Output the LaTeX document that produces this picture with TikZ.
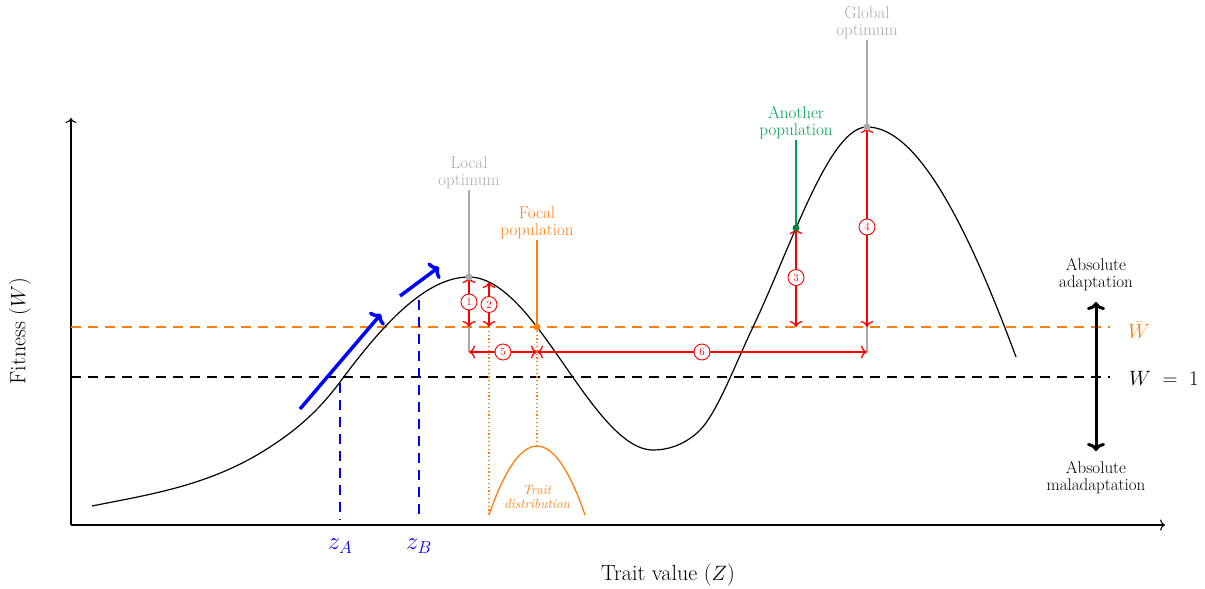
\documentclass[tikz,border=0pt]{standalone}
\usetikzlibrary{arrows.meta}
\definecolor{myorange}{RGB}{255,127,14}
\definecolor{mygreen}{RGB}{0,160,80}
\definecolor{mygray}{RGB}{170,170,170}
\begin{document}
\begin{tikzpicture}[x=1pt,y=-1pt,
  lbl/.style={font=\fontsize{17}{17}\selectfont, align=center, inner sep=1pt},
  num/.style={circle, draw=red, fill=white, text=red, inner sep=0pt, minimum size=16pt, font=\fontsize{11}{11}\selectfont, line width=0.9pt},
  redtip/.tip={To[length=6pt,width=13pt]},
  redarr/.style={red, line width=1.3pt, redtip-redtip},
  grayline/.style={mygray, line width=1.2pt},
  bluearr/.style={blue, line width=3.5pt, -{To[length=8pt,width=20pt]}},
  bluedash/.style={blue, line width=1.1pt, dash pattern=on 10pt off 7pt},
  blackdash/.style={black, line width=1.1pt, dash pattern=on 10pt off 7pt},
  orangedash/.style={myorange, line width=1.1pt, dash pattern=on 10pt off 7pt},
  orangedot/.style={myorange, line width=1.2pt, dash pattern=on 1.2pt off 2.6pt},
  dot/.style={circle, inner sep=0pt, minimum size=7pt},
]
\useasboundingbox (0,0) rectangle (1205,589);

% axes
\coordinate (origin) at (71,525);
\coordinate (ytop) at (71,118);
\coordinate (xend) at (1165,525);
\draw[line width=1.1pt,-{To[length=5pt,width=11pt]}] (origin) -- (ytop);
\draw[line width=1.1pt,-{To[length=5pt,width=11pt]}] (origin) -- (xend);
\node[rotate=90, font=\fontsize{22}{22}\selectfont] (ylab) at (20,331) {Fitness ($W$)};
\node[font=\fontsize{22}{22}\selectfont] (xlab) at (668,575) {Trait value ($Z$)};

% reference lines
\coordinate (w1a) at (71,377);
\coordinate (w1b) at (1110,377);
\coordinate (wba) at (71,327);
\coordinate (wbb) at (1110,327);
\draw[blackdash] (w1a) -- (w1b);
\draw[orangedash] (wba) -- (wbb);
\node[font=\fontsize{21}{21}\selectfont, anchor=west, inner sep=0pt] (w1lab) at (1129,378) {$W\;=\;1$};
\node[font=\fontsize{21}{21}\selectfont, text=myorange, anchor=west, inner sep=0pt] (wblab) at (1128,330) {$\bar{W}$};

% absolute adaptation arrow
\node[lbl, anchor=south] (absad) at (1096,292) {Absolute\\adaptation};
\node[lbl, anchor=north] (absmal) at (1096,460) {Absolute\\maladaptation};
\coordinate (aatop) at (1096,302);
\coordinate (aabot) at (1096,451);
\draw[line width=3pt, {To[length=8pt,width=18pt]}-{To[length=8pt,width=18pt]}] (aatop) -- (aabot);

% fitness curve
\draw[line width=1.2pt] (92,506)
 .. controls (151.3,494.1) and (210.7,485.6) .. (270,447)
 .. controls (293.3,431.8) and (316.7,413.5) .. (340,382)
 .. controls (383,324) and (426,277) .. (469,277)
 .. controls (491.7,277) and (514.3,297.5) .. (537,327)
 .. controls (575.7,377.3) and (614.3,450) .. (653,450)
 .. controls (667.7,450) and (682.3,445.5) .. (697,433)
 .. controls (715.7,417.1) and (734.3,366.2) .. (753,327)
 .. controls (791,247.2) and (829,127) .. (867,127)
 .. controls (916.7,127) and (966.3,222.9) .. (1016,357);

% key points
\coordinate (locopt) at (469,277);
\coordinate (focal) at (537,327);
\coordinate (another) at (796,228);
\coordinate (globopt) at (867,127);
\coordinate (c2) at (489,282);

% blue adaptation arrows and verticals
\coordinate (ba1s) at (300,409);
\coordinate (ba1e) at (381,314);
\coordinate (ba2s) at (400,296);
\coordinate (ba2e) at (439,267);
\draw[bluearr] (ba1s) -- (ba1e);
\draw[bluearr] (ba2s) -- (ba2e);
\node[font=\fontsize{25}{25}\selectfont, text=blue] (zA) at (340,546) {$z_A$};
\node[font=\fontsize{25}{25}\selectfont, text=blue] (zB) at (419,546) {$z_B$};
\coordinate (zAtop) at (340,383);
\coordinate (zBtop) at (419,300);
\coordinate (zAbot) at (340,520);
\coordinate (zBbot) at (419,520);
\draw[bluedash] (zAtop) -- (zAbot);
\draw[bluedash] (zBtop) -- (zBbot);

% labels with leader lines
\node[lbl, text=mygray, anchor=south] (loclbl) at (469,190) {Local\\optimum};
\node[lbl, text=myorange, anchor=south] (foclbl) at (537,240) {Focal\\population};
\node[lbl, text=mygreen, anchor=south] (anolbl) at (796,140) {Another\\population};
\node[lbl, text=mygray, anchor=south] (glolbl) at (867,40) {Global\\optimum};

\coordinate (locbase) at (469,352);
\coordinate (globase) at (867,352);
\coordinate (focbase) at (537,352);
\draw[grayline] (loclbl.south) -- (locbase);
\draw[grayline] (glolbl.south) -- (globase);
\draw[myorange, line width=1.1pt] (foclbl.south) -- (focal);
\draw[mygreen, line width=1.1pt] (anolbl.south) -- (another);

% trait distribution
\coordinate (tdl) at (489,515);
\coordinate (tdp) at (537,446);
\coordinate (tdr) at (585,515);
\draw[myorange, line width=1.3pt] (tdl) parabola bend (tdp) (tdr);
\node[font=\fontsize{13.5}{14}\selectfont\itshape, text=myorange, align=center] (tdlab) at (537,497) {Trait\\distribution};
\coordinate (c2b) at (489,327);
\draw[orangedot] (c2b) -- (tdl);
\draw[orangedot] (focal) -- (tdp);

% red arrows
\coordinate (w1x) at (469,327);
\coordinate (w3x) at (796,327);
\coordinate (w4x) at (867,327);
\draw[redarr] (locopt) -- node[num] {1} (w1x);
\draw[redarr] (c2) -- node[num] {2} (c2b);
\draw[redarr] (another) -- node[num] {3} (w3x);
\draw[redarr] (globopt) -- node[num] {4} (w4x);
\draw[redarr] (locbase) -- node[num] {5} (focbase);
\draw[redarr] (focbase) -- node[num] {6} (globase);

% dots
\node[dot, fill=mygray] (dloc) at (locopt) {};
\node[dot, fill=mygray] (dglo) at (globopt) {};
\node[dot, fill=myorange] (dfoc) at (focal) {};
\node[dot, fill=mygreen!80!black] (dano) at (another) {};
\end{tikzpicture}
\end{document}
